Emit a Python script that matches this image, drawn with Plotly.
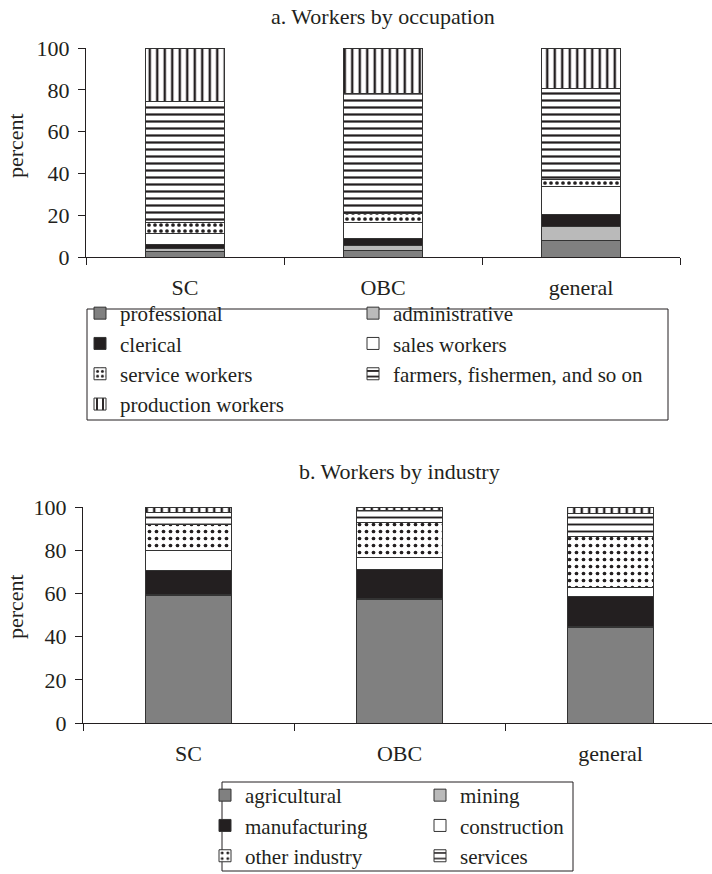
import plotly.graph_objects as go

# ---- data -------------------------------------------------------------
groups = ["SC", "OBC", "general"]

occupations = ["professional", "administrative", "clerical", "sales workers",
               "service workers", "farmers, fishermen, and so on",
               "production workers"]
professional = [2.5, 3.0, 7.7]
administrative = [1.5, 2.5, 6.8]
clerical = [2.0, 3.2, 5.8]
sales_workers = [5.4, 7.8, 13.2]
service_workers = [5.1, 4.5, 3.7]
farmers_fishermen = [57.7, 57.0, 43.5]
production_workers = [25.8, 22.0, 19.3]

industries = ["agricultural", "mining", "manufacturing", "construction",
              "other industry", "services", "unclassified"]
agricultural = [58.8, 57.0, 44.3]
mining = [0.5, 0.5, 0.6]
manufacturing = [11.5, 13.5, 13.6]
construction = [9.0, 5.5, 4.3]
other_industry = [12.0, 16.5, 23.4]
services = [5.7, 5.2, 10.8]
unclassified = [2.5, 1.8, 3.0]

y_ticks = [0, 20, 40, 60, 80, 100]

# ---- styling ----------------------------------------------------------
W, H = 712, 874
INK = "#231f20"
SERIF = "Liberation Serif, Times New Roman, serif"
FONT = dict(family=SERIF, size=22, color=INK)
LEGEND_FONT = dict(family=SERIF, size=21, color=INK)
OUTLINE = dict(color="#333333", width=1)


def fx(p):
    return p / W


def fy(p):
    return 1 - p / H


def solid(c):
    return dict(color=c, line=OUTLINE)


def patterned(shape, size, solidity):
    return dict(color="white", line=OUTLINE,
                pattern=dict(shape=shape, fgcolor=INK, bgcolor="white",
                             size=size, solidity=solidity, fillmode="replace"))


occupation_values = [professional, administrative, clerical, sales_workers,
                     service_workers, farmers_fishermen, production_workers]
occupation_markers = [solid("#808080"), solid("#bababa"), solid(INK), solid("white"),
                      patterned(".", 6, 0.3), patterned("-", 7, 0.32),
                      patterned("|", 7.5, 0.32)]
# two legend columns, filled row by row
occupation_legends = ["legend", "legend2", "legend", "legend2",
                      "legend", "legend2", "legend"]

industry_values = [agricultural, mining, manufacturing, construction,
                   other_industry, services, unclassified]
industry_markers = [solid("#808080"), solid("#bababa"), solid(INK), solid("white"),
                    patterned(".", 7, 0.22), patterned("-", 7, 0.27),
                    patterned("|", 7.5, 0.32)]
industry_legends = ["legend3", "legend4", "legend3", "legend4",
                    "legend3", "legend4", "legend3"]

fig = go.Figure()

for name, vals, mk, lg in zip(occupations, occupation_values,
                              occupation_markers, occupation_legends):
    fig.add_trace(go.Bar(x=groups, y=vals, name=name, marker=mk, width=0.4,
                         xaxis="x", yaxis="y", legend=lg))

for name, vals, mk, lg in zip(industries, industry_values,
                              industry_markers, industry_legends):
    fig.add_trace(go.Bar(x=groups, y=vals, name=name, marker=mk, width=0.403,
                         xaxis="x2", yaxis="y2", legend=lg,
                         showlegend=(name != "unclassified")))

axis_common = dict(showline=True, linecolor=INK, linewidth=1, ticks="outside",
                   ticklen=7, tickcolor=INK, tickwidth=1, showgrid=False,
                   zeroline=False, tickfont=FONT, automargin=False)


def column_legend(x_px, y_px):
    return dict(x=fx(x_px), y=fy(y_px), xanchor="left", yanchor="top",
                orientation="v", font=LEGEND_FONT, bgcolor="rgba(0,0,0,0)",
                borderwidth=0, traceorder="normal", tracegroupgap=0)


fig.update_layout(
    width=W, height=H,
    margin=dict(l=0, r=0, t=0, b=0, autoexpand=False),
    paper_bgcolor="white", plot_bgcolor="white",
    barmode="stack",
    font=FONT,
    xaxis=dict(domain=[fx(86), fx(680)], anchor="y", type="category",
               range=[-0.5, 2.5], tickson="boundaries", ticklabelstandoff=11,
               **axis_common),
    yaxis=dict(domain=[fy(257), fy(48)], anchor="x", range=[0, 100],
               tickvals=y_ticks, ticklabelstandoff=4, **axis_common),
    xaxis2=dict(domain=[fx(83), 1.0], anchor="y2", type="category",
                range=[-0.5, 2.481], tickson="boundaries", ticklabelstandoff=11,
                **axis_common),
    yaxis2=dict(domain=[fy(723), fy(507)], anchor="x2", range=[0, 100],
                tickvals=y_ticks, ticklabelstandoff=4, **axis_common),
    legend=column_legend(80, 293),
    legend2=column_legend(353, 293),
    legend3=column_legend(205, 775),
    legend4=column_legend(420, 775),
    showlegend=True,
)

# legend frames
fig.add_shape(type="rect", xref="paper", yref="paper",
              x0=fx(87), x1=fx(668), y0=fy(420), y1=fy(309),
              line=dict(color=INK, width=1))
fig.add_shape(type="rect", xref="paper", yref="paper",
              x0=fx(222), x1=fx(573), y0=fy(871), y1=fy(782),
              line=dict(color=INK, width=1))

# panel titles and axis titles
fig.add_annotation(text="a. Workers by occupation", xref="paper", yref="paper",
                   x=fx(383), y=fy(16), showarrow=False, font=FONT,
                   xanchor="center", yanchor="middle")
fig.add_annotation(text="b. Workers by industry", xref="paper", yref="paper",
                   x=fx(399), y=fy(471), showarrow=False, font=FONT,
                   xanchor="center", yanchor="middle")
fig.add_annotation(text="percent", xref="paper", yref="paper",
                   x=fx(15), y=fy(146), showarrow=False, font=FONT,
                   textangle=-90, xanchor="center", yanchor="middle")
fig.add_annotation(text="percent", xref="paper", yref="paper",
                   x=fx(15), y=fy(607), showarrow=False, font=FONT,
                   textangle=-90, xanchor="center", yanchor="middle")

fig.write_html("out.html")
